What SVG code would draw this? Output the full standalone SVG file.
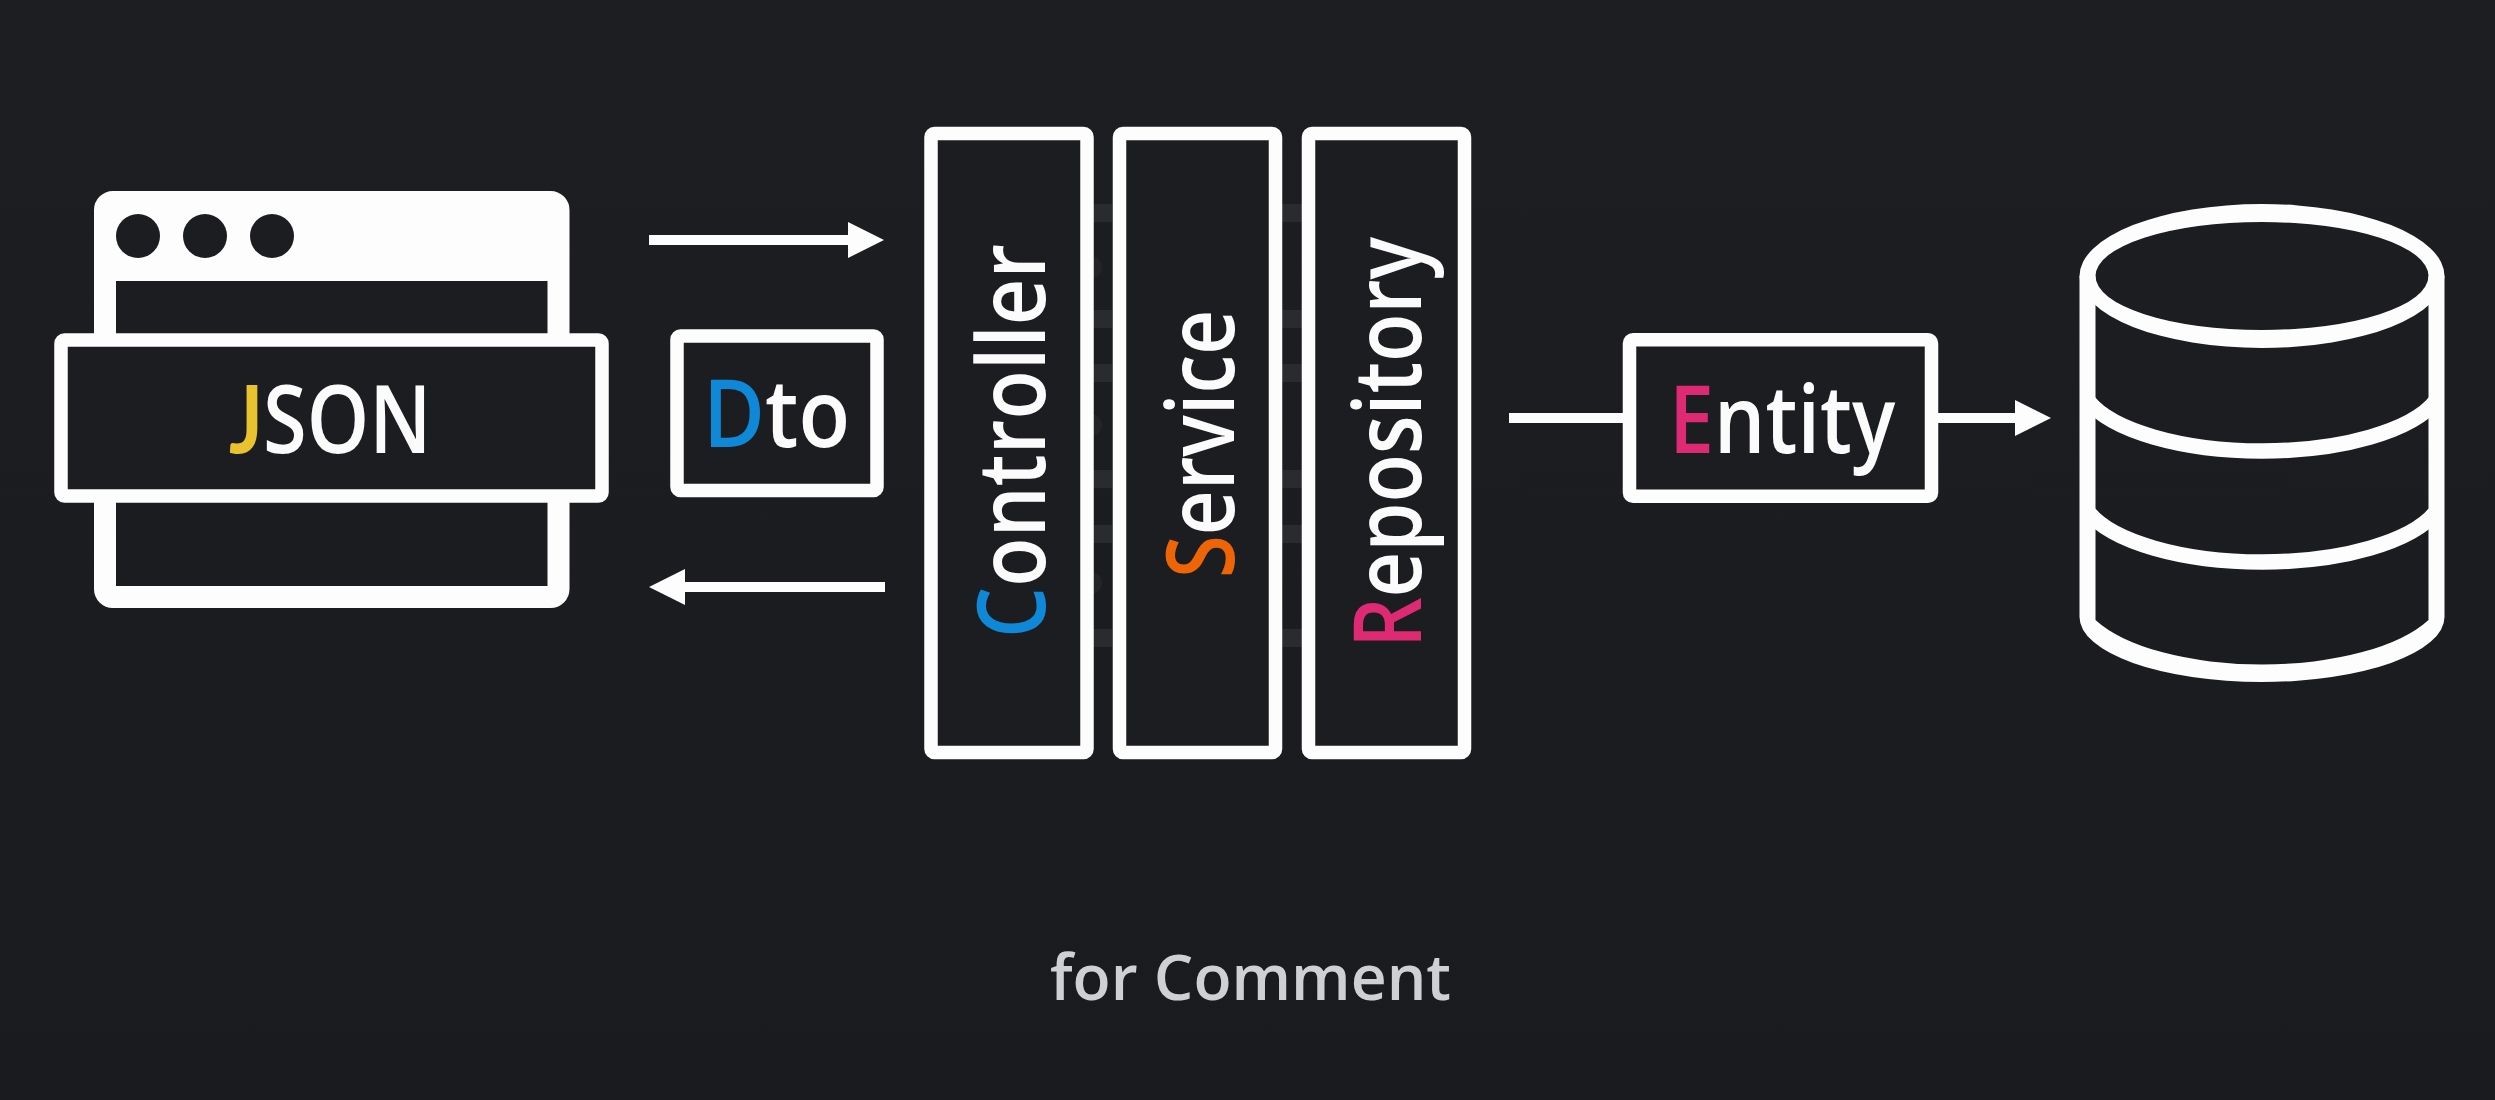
<svg xmlns="http://www.w3.org/2000/svg" width="2495" height="1100" viewBox="0 0 2495 1100">
<style>
.box{fill:#1c1d21;stroke:#fdfdfd;stroke-width:13.5}
.t{font-family:"Open Sans","Noto Sans","Liberation Sans",sans-serif;font-size:94px;fill:#fbfbfc;font-weight:600}
.line{stroke:#fdfdfd;stroke-width:10;fill:none}
.db{fill:#fdfdfd;fill-rule:evenodd}
.arc{fill:none;stroke:#fdfdfd;stroke-width:15.5}
.ghost{fill:#2a2b2f}
.bump{fill:#242529}
.j{fill:#e8c22f;font-family:Lato,"Open Sans",sans-serif;font-weight:700}.blue{fill:#0f88d8}.s{fill:#ee6508}.pink{fill:#dd2a72}
</style>
<defs>
<linearGradient id="bg" x1="0" y1="0" x2="0" y2="1"><stop offset="0" stop-color="#1d1e22"/><stop offset="1" stop-color="#1a1b1f"/></linearGradient>
<marker id="head" markerUnits="userSpaceOnUse" markerWidth="36" markerHeight="37" refX="1" refY="18.5" orient="auto">
<path d="M0 0.5L36 18.5L0 36.5Z" fill="#fdfdfd"/>
</marker>
</defs>
<rect width="2495" height="1100" fill="url(#bg)"/>
<g id="ghost-marks">
<rect class="ghost" x="1093" y="204" width="19" height="18"/><rect class="ghost" x="1093" y="310" width="19" height="18"/><rect class="ghost" x="1093" y="364" width="19" height="18"/><rect class="ghost" x="1093" y="470" width="19" height="18"/><rect class="ghost" x="1093" y="525" width="19" height="18"/><rect class="ghost" x="1093" y="629" width="19" height="18"/>
<rect class="ghost" x="1282" y="204" width="20" height="18"/><rect class="ghost" x="1282" y="310" width="20" height="18"/><rect class="ghost" x="1282" y="364" width="20" height="18"/><rect class="ghost" x="1282" y="470" width="20" height="18"/><rect class="ghost" x="1282" y="525" width="20" height="18"/><rect class="ghost" x="1282" y="629" width="20" height="18"/>
<circle class="bump" cx="1091" cy="267" r="11"/><circle class="bump" cx="1091" cy="425" r="11"/><circle class="bump" cx="1091" cy="583" r="11"/>
</g>
<g id="connectors">
<line class="line" x1="649" y1="240" x2="849" y2="240" marker-end="url(#head)"/>
<line class="line" x1="885" y1="587" x2="684" y2="587" marker-end="url(#head)"/>
<line class="line" x1="1509" y1="418" x2="1623" y2="418"/>
<line class="line" x1="1938" y1="418" x2="2016" y2="418" marker-end="url(#head)"/>
</g>
<g id="browser">
<rect x="105" y="202" width="453.5" height="395" rx="8" fill="none" stroke="#fdfdfd" stroke-width="22"/>
<rect x="105" y="202" width="453.5" height="79" fill="#fdfdfd"/>
<circle cx="138" cy="236" r="22" fill="#1c1d21"/><circle cx="205" cy="236" r="22" fill="#1c1d21"/><circle cx="272" cy="236" r="22" fill="#1c1d21"/>
</g>
<g id="json">
<rect class="box" x="61" y="340" width="541" height="156" rx="3.5"/>
<text class="t" transform="translate(229 453) scale(.845 1)"><tspan class="j">J</tspan>SON</text>
</g>
<g id="dto">
<rect class="box" x="677" y="336" width="200" height="154.500" rx="3.500"/>
<text class="t" transform="translate(703 447) scale(.9 1)"><tspan class="blue">D</tspan>to</text>
</g>
<g id="controller">
<rect class="box" x="931" y="133.500" width="156" height="619" rx="3.500"/>
<text class="t" transform="translate(1045 638) rotate(-90)" textLength="394" lengthAdjust="spacingAndGlyphs"><tspan class="blue">C</tspan>ontroller</text>
</g>
<g id="service">
<rect class="box" x="1119.500" y="133.500" width="156" height="619" rx="3.500"/>
<text class="t" transform="translate(1234 578) rotate(-90)" textLength="268" lengthAdjust="spacingAndGlyphs"><tspan class="s">S</tspan>ervice</text>
</g>
<g id="repository">
<rect class="box" x="1308.500" y="133.500" width="156" height="619" rx="3.500"/>
<text class="t" transform="translate(1421 648) rotate(-90)" textLength="411" lengthAdjust="spacingAndGlyphs"><tspan class="pink">R</tspan>epository</text>
</g>
<g id="entity">
<rect class="box" x="1629.500" y="339.700" width="302" height="156.500" rx="3.500"/>
<text class="t" transform="translate(1669 453) scale(.86 1)"><tspan class="pink">E</tspan>ntity</text>
</g>
<g id="database">
<path class="db" d="M2079.500 276A182.500 72 0 0 1 2444.500 276A182.500 72 0 0 1 2079.500 276ZM2095.500 276A166.500 54 0 0 0 2428.500 276A166.500 54 0 0 0 2095.500 276Z"/>
<path class="db" d="M2079.500 276H2095.500V620A182 74.600 0 0 0 2428.500 620V276H2444.500V617A182.500 65 0 0 1 2079.500 617Z"/>
<path class="arc" d="M2088 400.800A182 71 0 0 0 2436 400.800"/>
<path class="arc" d="M2088 511.800A182 71 0 0 0 2436 511.800"/>
</g>
<g id="caption">
<text x="1050" y="1000" textLength="401" lengthAdjust="spacingAndGlyphs" style="font-family:'Open Sans','Noto Sans','Liberation Sans',sans-serif;font-size:64px;font-weight:600;fill:#cfd0d4">for Comment</text>
</g>
</svg>
